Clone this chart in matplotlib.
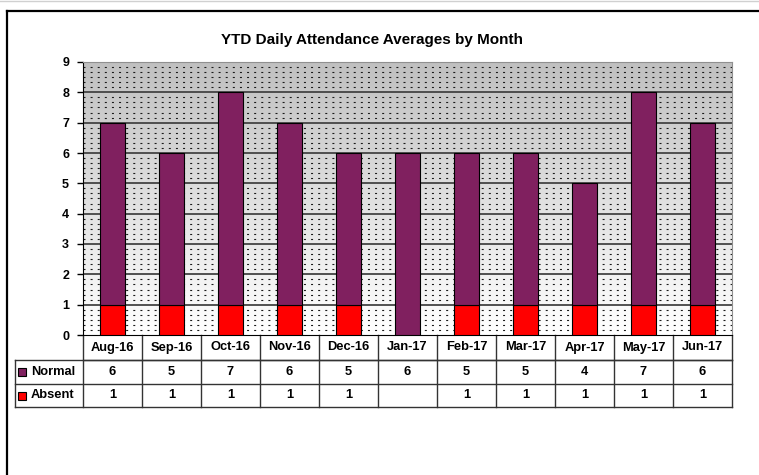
import numpy as np
import matplotlib
matplotlib.use("Agg")
import matplotlib.pyplot as plt
from matplotlib.lines import Line2D
from matplotlib.patches import Rectangle
from matplotlib.transforms import blended_transform_factory

months = ["Aug-16", "Sep-16", "Oct-16", "Nov-16", "Dec-16", "Jan-17",
          "Feb-17", "Mar-17", "Apr-17", "May-17", "Jun-17"]
normal = [6, 5, 7, 6, 5, 6, 5, 5, 4, 7, 6]
absent = [1, 1, 1, 1, 1, 0, 1, 1, 1, 1, 1]
absent_labels = ["1", "1", "1", "1", "1", "", "1", "1", "1", "1", "1"]
yticks = list(range(0, 10))

PURPLE = "#80205f"
RED = "#ff0000"

plt.rcParams['font.family'] = ['Liberation Sans', 'DejaVu Sans']

fig = plt.figure(figsize=(7.59, 4.75), dpi=100)
W, H = 759, 475
ax = fig.add_axes([83 / W, 1 - 335 / H, (732 - 83) / W, (335 - 62) / H])

n = len(months)
x = np.arange(n)
ax.set_xlim(-0.5, n - 0.5)
ax.set_ylim(0, 9)

# gradient background, gray at top to white at bottom
grad = np.linspace(1.0, 0.75, 256).reshape(-1, 1)
ax.imshow(grad, extent=(-0.5, n - 0.5, 0, 9), origin="lower", aspect="auto",
          cmap="gray", vmin=0, vmax=1, zorder=0)

# dotted fill pattern
for i in range(9):
    for k in range(1, 6):
        ax.axhline(i + k / 6, color="#1a1a1a", lw=0.8, ls=(0, (1.8, 4.6)), zorder=1)

# gridlines
for t in yticks[1:]:
    ax.axhline(t, color="#444444", lw=1.3, zorder=2)

# stacked bars
bw = 0.42
ax.bar(x, absent, bw, color=RED, edgecolor="black", lw=0.8, zorder=3)
ax.bar(x, normal, bw, bottom=absent, color=PURPLE, edgecolor="black", lw=0.8, zorder=3)

ax.set_xticks([])
ax.set_yticks(yticks)
ax.set_yticklabels([str(t) for t in yticks], fontsize=9, fontweight="bold")
ax.tick_params(axis="y", length=4, width=1, pad=6)
for s in ["top", "right"]:
    ax.spines[s].set_color("#909090")
ax.spines["left"].set_color("black")
ax.spines["bottom"].set_color("black")

# data table under the chart
tr = blended_transform_factory(ax.transData, ax.transAxes)
px = 1 / 273.0
r0, r1, r2, r3 = 0, -25 * px, -49 * px, -72 * px
xl = -0.5 - 68 / 59.0
xr = n - 0.5
lc = "#333333"

def hline(x0, x1, y):
    ax.add_line(Line2D([x0, x1], [y, y], transform=tr, color=lc, lw=1, clip_on=False))

def vline(xv, y0, y1):
    ax.add_line(Line2D([xv, xv], [y0, y1], transform=tr, color=lc, lw=1, clip_on=False))

hline(-0.5, xr, r1)
hline(xl, xr, r1)
hline(xl, xr, r2)
hline(xl, xr, r3)
vline(xl, r1, r3)
for b in np.arange(-0.5, n, 1.0):
    vline(b, r0, r3)

fs = 9.3
for i, m in enumerate(months):
    ax.text(i, (r0 + r1) / 2, m, transform=tr, ha="center", va="center",
            fontsize=fs, fontweight="bold")
    ax.text(i, (r1 + r2) / 2, str(normal[i]), transform=tr, ha="center", va="center",
            fontsize=fs, fontweight="bold")
    ax.text(i, (r2 + r3) / 2, absent_labels[i], transform=tr, ha="center", va="center",
            fontsize=fs, fontweight="bold")

for name, col, (ya, yb) in [("Normal", PURPLE, (r1, r2)), ("Absent", RED, (r2, r3))]:
    ym = (ya + yb) / 2
    sq = Rectangle((xl + 3 / 59.0, ym - 4 * px), 8 / 59.0, 8 * px, transform=tr,
                   facecolor=col, edgecolor="black", lw=0.8, clip_on=False)
    ax.add_patch(sq)
    ax.text(xl + 16 / 59.0, ym, name, transform=tr, ha="left", va="center",
            fontsize=fs, fontweight="bold")

fig.text(372 / W, 1 - 40 / H, "YTD Daily Attendance Averages by Month",
         ha="center", va="center", fontsize=11, fontweight="bold")

# outer chart frame (top and left edges visible)
fig.add_artist(Line2D([7 / W, 1], [1 - 11 / H, 1 - 11 / H], transform=fig.transFigure,
                      color="black", lw=1.6))
fig.add_artist(Line2D([7 / W, 7 / W], [0, 1 - 11 / H], transform=fig.transFigure,
                      color="black", lw=1.6))
fig.add_artist(Line2D([0, 1], [1 - 0.5 / H, 1 - 0.5 / H], transform=fig.transFigure,
                      color="#d0d0d0", lw=1))

fig.savefig("out.png", dpi=100)
